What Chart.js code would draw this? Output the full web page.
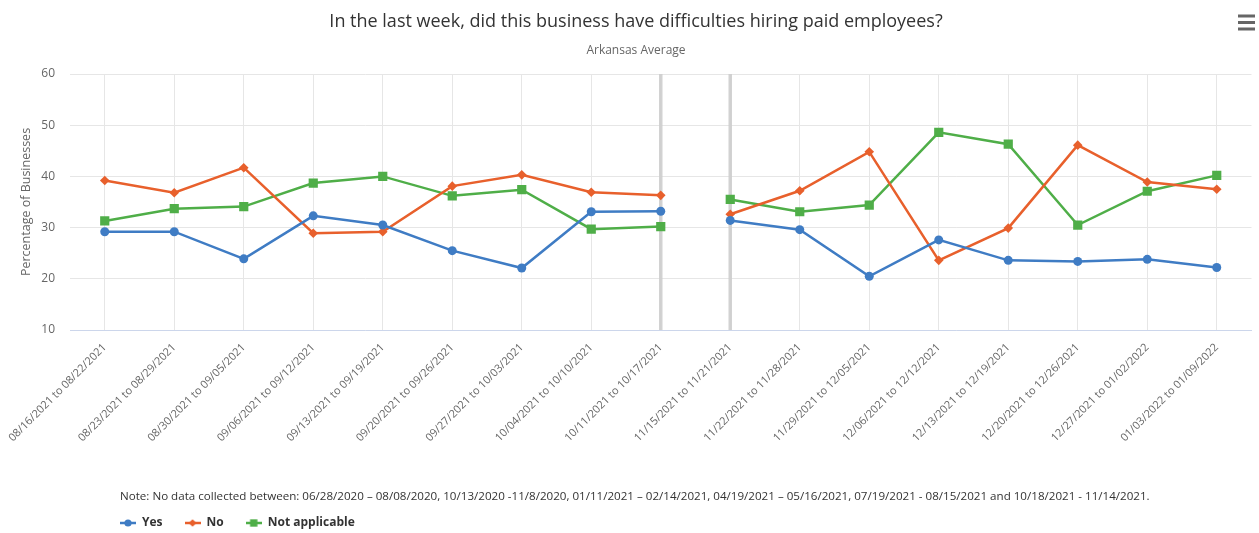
<!DOCTYPE html>
<html>
<head>
<meta charset="utf-8">
<title>In the last week, did this business have difficulties hiring paid employees?</title>
<script src="https://cdn.jsdelivr.net/npm/chart.js@4.4.1/dist/chart.umd.min.js"></script>
<style>
  html, body { margin: 0; padding: 0; background: #ffffff; }
  #wrap { position: relative; width: 1259px; height: 533px; }
  #chart { position: absolute; left: 0; top: 0; }
  #note {
    position: absolute; left: 120px; top: 488px;
    font-family: 'Open Sans', 'Noto Sans', sans-serif; font-size: 11.6px;
    color: #333333; white-space: nowrap;
  }
</style>
</head>
<body>
<div id="wrap">
  <canvas id="chart" width="1259" height="533"></canvas>
  <div id="note">Note: No data collected between: 06/28/2020 – 08/08/2020, 10/13/2020 -11/8/2020, 01/11/2021 – 02/14/2021, 04/19/2021 – 05/16/2021, 07/19/2021 - 08/15/2021 and 10/18/2021 - 11/14/2021.</div>
</div>
<script>
// Survey weeks
const weeks = [
  '08/16/2021 to 08/22/2021', '08/23/2021 to 08/29/2021', '08/30/2021 to 09/05/2021',
  '09/06/2021 to 09/12/2021', '09/13/2021 to 09/19/2021', '09/20/2021 to 09/26/2021',
  '09/27/2021 to 10/03/2021', '10/04/2021 to 10/10/2021', '10/11/2021 to 10/17/2021',
  '11/15/2021 to 11/21/2021', '11/22/2021 to 11/28/2021', '11/29/2021 to 12/05/2021',
  '12/06/2021 to 12/12/2021', '12/13/2021 to 12/19/2021', '12/20/2021 to 12/26/2021',
  '12/27/2021 to 01/02/2022', '01/03/2022 to 01/09/2022'
];

// Percentage of businesses per answer
const yesValues = [29.2, 29.2, 23.9, 32.3, 30.5, 25.5, 22.1, 33.1, 33.2, 31.4, 29.6, 20.5, 27.6, 23.6, 23.4, 23.8, 22.2];
const noValues  = [39.2, 36.8, 41.7, 28.9, 29.2, 38.1, 40.3, 36.9, 36.3, 32.6, 37.2, 44.8, 23.6, 29.9, 46.1, 38.9, 37.5];
const notApplicableValues = [31.3, 33.7, 34.1, 38.7, 40.0, 36.2, 37.4, 29.7, 30.2, 35.5, 33.1, 34.4, 48.6, 46.3, 30.5, 37.1, 40.2];

// Y axis tick values
const yTicks = [10, 20, 30, 40, 50, 60];

// Weeks after which collection paused (line is broken there)
const pauseAfter = ['10/11/2021 to 10/17/2021'];
// Weeks bordering the pause, marked with a vertical band
const pauseEdges = ['10/11/2021 to 10/17/2021', '11/15/2021 to 11/21/2021'];

const FONT = "'Open Sans', 'Noto Sans', sans-serif";
const COLORS = { yes: '#3f7cc4', no: '#e8602c', na: '#4fae48' };

// Small legend icon: a line with the series marker in the middle
function legendIcon(color, style, radius) {
  const c = document.createElement('canvas');
  c.width = 16; c.height = 12;
  const ctx = c.getContext('2d');
  ctx.strokeStyle = color; ctx.lineWidth = 2.5;
  ctx.beginPath(); ctx.moveTo(0, 6); ctx.lineTo(16, 6); ctx.stroke();
  ctx.fillStyle = color;
  Chart.helpers.drawPoint(ctx, { pointStyle: style, radius: radius, borderWidth: 0, rotation: 0 }, 8, 6);
  return c;
}

const breakSegment = ctx => pauseAfter.includes(weeks[ctx.p0DataIndex]) ? 'rgba(0,0,0,0)' : undefined;

function series(label, data, color, style, radius) {
  return {
    label, data,
    borderColor: color, backgroundColor: color,
    borderWidth: 2.5, tension: 0, fill: false,
    pointStyle: style, pointRadius: radius, pointHoverRadius: radius + 1,
    pointBorderWidth: 0, pointBackgroundColor: color,
    segment: { borderColor: breakSegment },
    legendIcon: legendIcon(color, style, radius * 0.8)
  };
}

// Vertical bands at the collection pause, and the menu glyph
const decorPlugin = {
  id: 'decor',
  afterLayout(chart) {
    // legend row sits under the note text
    const lg = chart.legend;
    lg.left = 98;
    lg.top += 8;
    lg.bottom += 8;
  },
  beforeDatasetsDraw(chart) {
    const { ctx, chartArea, scales } = chart;
    ctx.save();
    ctx.strokeStyle = 'rgba(205,205,205,0.9)';
    ctx.lineWidth = 3.5;
    pauseEdges.forEach(w => {
      const x = scales.x.getPixelForValue(weeks.indexOf(w));
      ctx.beginPath();
      ctx.moveTo(x, chartArea.top);
      ctx.lineTo(x, chartArea.bottom);
      ctx.stroke();
    });
    ctx.restore();
  },
  afterDraw(chart) {
    const ctx = chart.ctx;
    ctx.save();
    ctx.fillStyle = '#666666';
    [14.5, 21, 27.5].forEach(y => ctx.fillRect(1238, y, 17, 3));
    ctx.restore();
  }
};

new Chart(document.getElementById('chart'), {
  type: 'line',
  data: {
    labels: weeks,
    datasets: [
      series('Yes', yesValues, COLORS.yes, 'circle', 4.5),
      series('No', noValues, COLORS.no, 'rectRot', 4.8),
      series('Not applicable', notApplicableValues, COLORS.na, 'rect', 6.5)
    ]
  },
  options: {
    responsive: false,
    animation: false,
    devicePixelRatio: 1,
    layout: { padding: { top: 0, right: 1, left: 14, bottom: 2 } },
    plugins: {
      title: {
        display: true,
        text: 'In the last week, did this business have difficulties hiring paid employees?',
        color: '#333333',
        font: { family: FONT, size: 18, weight: 'normal' },
        padding: { top: 11, bottom: 11 }
      },
      subtitle: {
        display: true,
        text: 'Arkansas Average',
        color: '#666666',
        font: { family: FONT, size: 12, weight: 'normal' },
        padding: { top: 0, bottom: 16 }
      },
      legend: {
        position: 'bottom',
        align: 'start',
        labels: {
          usePointStyle: true,
          pointStyleWidth: 16,
          boxHeight: 12,
          padding: 22,
          color: '#333333',
          font: { family: FONT, size: 12, weight: 'bold' },
          generateLabels(chart) {
            const items = Chart.defaults.plugins.legend.labels.generateLabels(chart);
            items.forEach(it => { it.pointStyle = chart.data.datasets[it.datasetIndex].legendIcon; });
            return items;
          }
        }
      },
      tooltip: { enabled: false }
    },
    scales: {
      x: {
        offset: true,
        grid: { offset: false, color: '#e6e6e6', drawTicks: false },
        border: { color: '#ccd6eb', width: 1 },
        ticks: {
          color: '#666666',
          font: { family: FONT, size: 11 },
          minRotation: 45, maxRotation: 45,
          autoSkip: false,
          padding: 11
        },
        afterFit(scale) {
          scale.height = 157;
          // rotated labels may run past the plot's left edge
          scale.paddingLeft = 0;
          scale.paddingRight = 0;
        }
      },
      y: {
        min: 10, max: 60,
        afterBuildTicks(scale) { scale.ticks = yTicks.map(v => ({ value: v })); },
        grid: { color: '#e6e6e6', drawTicks: false },
        border: { display: false },
        ticks: {
          color: '#666666',
          font: { family: FONT, size: 12 },
          padding: 15
        },
        title: {
          display: true,
          text: 'Percentage of Businesses',
          color: '#666666',
          font: { family: FONT, size: 12.5 },
          padding: { top: 5, bottom: 0 }
        },
        afterFit(scale) { scale.width = 56; }
      }
    }
  },
  plugins: [decorPlugin]
});
</script>
</body>
</html>
